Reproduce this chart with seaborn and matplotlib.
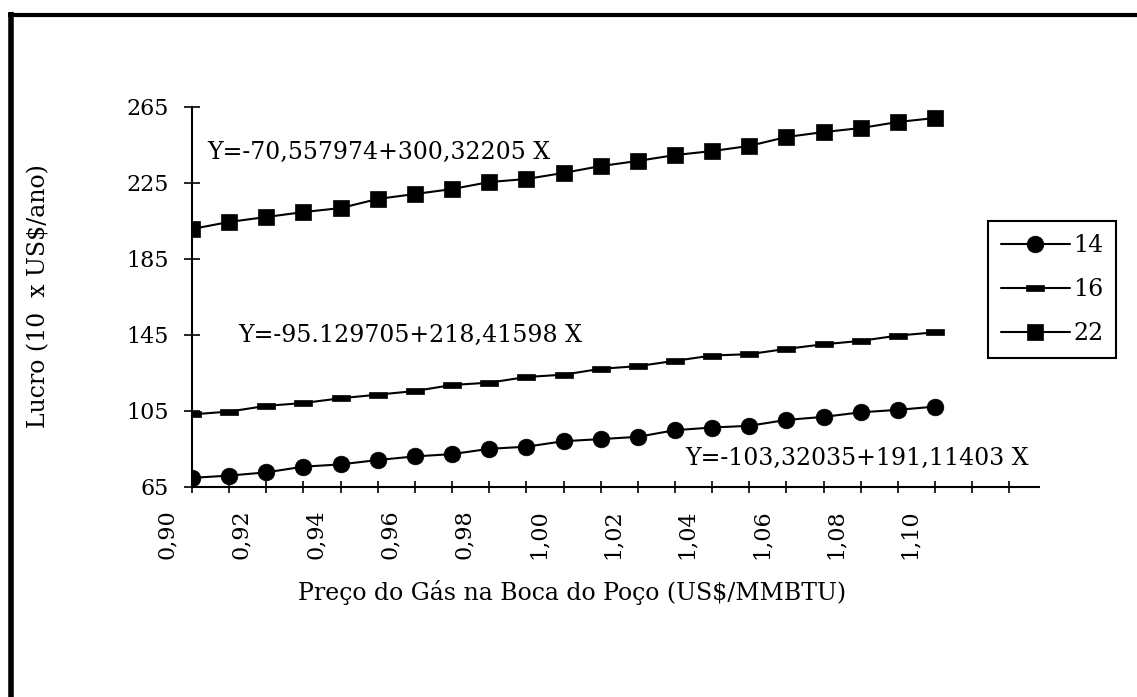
import matplotlib
matplotlib.use("Agg")
import matplotlib.pyplot as plt
import matplotlib.transforms as mtransforms
from matplotlib.lines import Line2D
import seaborn as sns

# Wellhead gas price (US$/MMBTU)
preco = [0.90, 0.91, 0.92, 0.93, 0.94, 0.95, 0.96, 0.97, 0.98, 0.99, 1.00,
         1.01, 1.02, 1.03, 1.04, 1.05, 1.06, 1.07, 1.08, 1.09, 1.10]

# Annual profit for each case
lucro_14 = [69.8, 71.0, 72.7, 75.7, 76.9, 79.2, 81.1, 82.3, 85.1, 86.2, 89.1,
            90.2, 91.4, 94.9, 96.3, 97.2, 100.3, 101.9, 104.3, 105.6, 107.3]
lucro_16 = [103.2, 104.7, 107.7, 109.2, 111.7, 113.6, 115.5, 118.7, 119.9, 122.9, 124.1,
            127.2, 128.6, 131.4, 134.2, 134.9, 137.7, 140.1, 141.9, 144.7, 146.4]
lucro_22 = [200.8, 204.5, 207.1, 209.7, 211.8, 216.6, 219.2, 221.8, 225.5, 227.1, 230.3,
            233.9, 236.6, 239.7, 241.8, 244.5, 249.2, 251.8, 253.9, 257.1, 259.2]

series_labels = ["14", "16", "22"]

# Regression equations written next to each curve
eq_22 = "Y=-70,557974+300,32205 X"
eq_16 = "Y=-95.129705+218,41598 X"
eq_14 = "Y=-103,32035+191,11403 X"

x_ticks = [0.90, 0.91, 0.92, 0.93, 0.94, 0.95, 0.96, 0.97, 0.98, 0.99, 1.00, 1.01,
           1.02, 1.03, 1.04, 1.05, 1.06, 1.07, 1.08, 1.09, 1.10, 1.11, 1.12]
x_ticklabels = ["0,90", "", "0,92", "", "0,94", "", "0,96", "", "0,98", "", "1,00", "",
                "1,02", "", "1,04", "", "1,06", "", "1,08", "", "1,10", "", ""]
y_ticks = [65, 105, 145, 185, 225, 265]

x_label = "Preço do Gás na Boca do Poço (US$/MMBTU)"
y_label = "Lucro (10  x US$/ano)"

sns.set_style("ticks")
plt.rcParams["font.family"] = ["DejaVu Serif"]
plt.rcParams["text.color"] = "black"
plt.rcParams["axes.labelcolor"] = "black"
plt.rcParams["xtick.color"] = "black"
plt.rcParams["ytick.color"] = "black"

fig = plt.figure(figsize=(11.37, 6.97), dpi=100)
ax = fig.add_axes([0.1689, 0.3013, 0.7449, 0.5452])

bar_marker = [(-1, -0.33), (1, -0.33), (1, 0.33), (-1, 0.33), (-1, -0.33)]

common = dict(ax=ax, color="black", linewidth=1.5, markeredgecolor="black",
              markerfacecolor="black", markeredgewidth=0.5)
sns.lineplot(x=preco, y=lucro_14, marker="o", markersize=12,
             label=series_labels[0], **common)
sns.lineplot(x=preco, y=lucro_16, marker=bar_marker, markersize=13,
             label=series_labels[1], **common)
sns.lineplot(x=preco, y=lucro_22, marker="s", markersize=12,
             label=series_labels[2], **common)

ax.set_xlim(0.90, 1.128)
ax.set_ylim(65, 265)

ax.set_xticks(x_ticks)
ax.set_xticklabels(x_ticklabels, rotation=90, ha="center", va="top", fontsize=16)
ax.set_yticks(y_ticks)
ax.set_yticklabels([str(v) for v in y_ticks], fontsize=16)

ax.tick_params(axis="x", direction="inout", length=8, width=1.2, pad=12, colors="black")
ax.tick_params(axis="y", direction="inout", length=11, width=1.2, pad=11, colors="black")

# shift the rotated price labels a little to the left of their ticks
shift = mtransforms.ScaledTranslation(-0.25, 0, fig.dpi_scale_trans)
for lab in ax.get_xticklabels():
    lab.set_transform(lab.get_transform() + shift)

for side in ("top", "right"):
    ax.spines[side].set_visible(False)
for side in ("left", "bottom"):
    ax.spines[side].set_color("black")
    ax.spines[side].set_linewidth(1.5)

ax.set_xlabel(x_label, fontsize=17, va="top", color="black")
ax.xaxis.set_label_coords(0.4487, -0.245)
ax.set_ylabel(y_label, fontsize=17, color="black")
ax.yaxis.set_label_coords(-0.167, 0.5026)

ax.text(0.0177, 0.8816, eq_22, transform=ax.transAxes, fontsize=17,
        ha="left", va="center", color="black")
ax.text(0.0543, 0.40, eq_16, transform=ax.transAxes, fontsize=17,
        ha="left", va="center", color="black")
ax.text(0.582, 0.0763, eq_14, transform=ax.transAxes, fontsize=17,
        ha="left", va="center", color="black")

leg = ax.legend(loc="upper left", bbox_to_anchor=(0.94, 0.70), borderaxespad=0,
                fontsize=17, frameon=True, fancybox=False, framealpha=1,
                edgecolor="black", handlelength=2.9, handletextpad=0.15,
                labelspacing=0.9, borderpad=0.55)
leg.get_frame().set_linewidth(1.5)
for t in leg.get_texts():
    t.set_color("black")

# frame around the figure (top and left edges)
fig.add_artist(Line2D([8 / 1137, 1.0], [1 - 14.5 / 697, 1 - 14.5 / 697],
                      transform=fig.transFigure, color="black", linewidth=3,
                      solid_capstyle="butt"))
fig.add_artist(Line2D([11 / 1137, 11 / 1137], [1 - 12 / 697, 0.0],
                      transform=fig.transFigure, color="black", linewidth=4,
                      solid_capstyle="butt"))

fig.savefig("out.png", dpi=100, facecolor="white")
